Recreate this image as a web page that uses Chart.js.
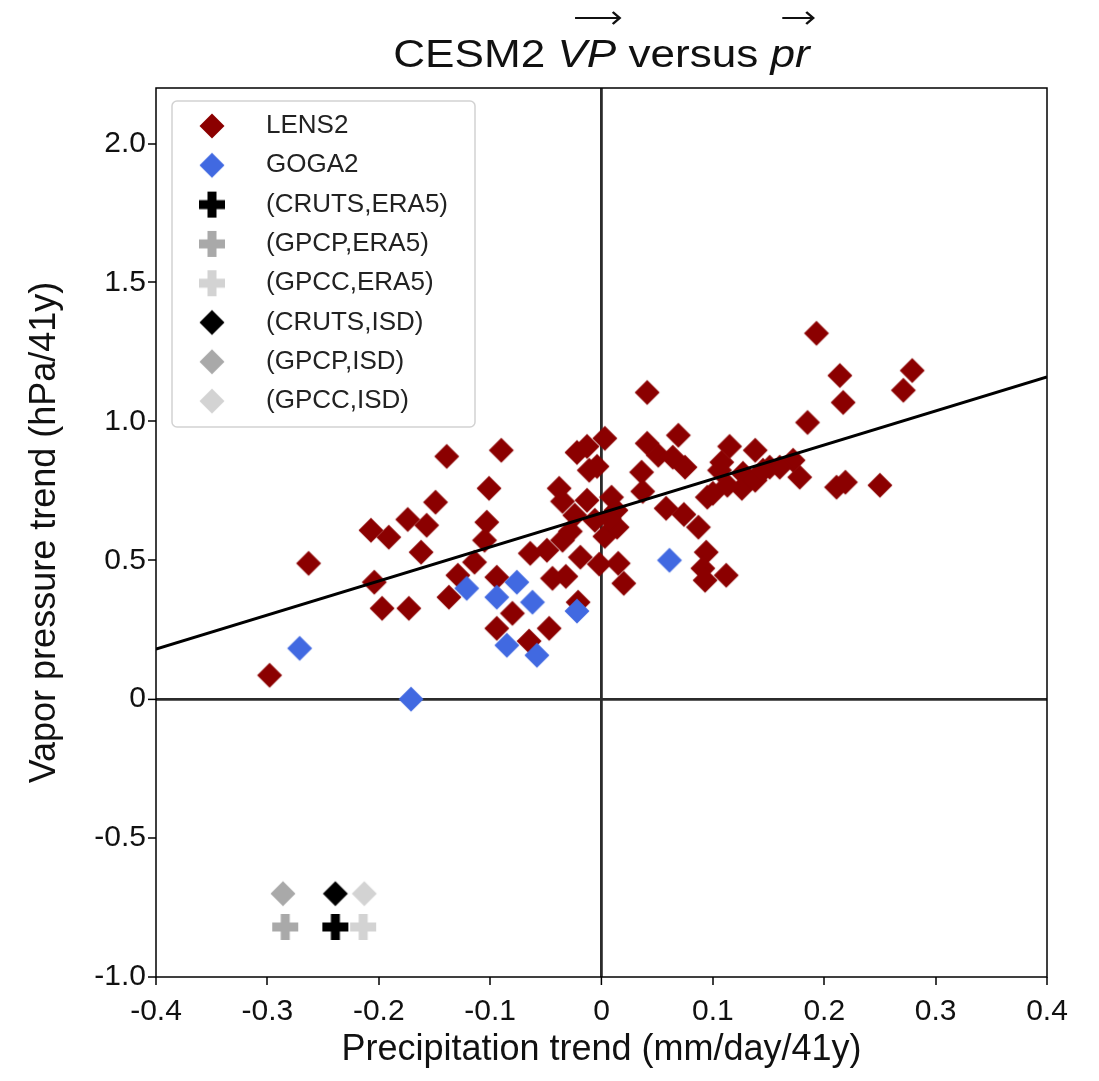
<!DOCTYPE html>
<html>
<head>
<meta charset="utf-8">
<script src="https://cdn.jsdelivr.net/npm/chart.js@4.4.1/dist/chart.umd.min.js"></script>
<style>
  body { margin: 0; background: #fff; }
  #wrap { width: 1099px; height: 1081px; }
</style>
</head>
<body>
<div id="wrap"><canvas id="scatter" width="1099" height="1081"></canvas></div>
<script>
// precipitation trend (mm/day/41y) and vapor pressure trend (hPa/41y) per member
const lens2Pr = [-0.298, -0.263, -0.139, -0.149, -0.174, -0.157, -0.207, -0.191, -0.162, -0.204,
  -0.197, -0.173, -0.137, -0.129, -0.114, 0.041, -0.090, -0.101, -0.103, -0.105,
  -0.094, -0.080, -0.094, -0.047, -0.065, -0.021, -0.064, -0.049, -0.044, -0.032,
  -0.035, -0.028, -0.019, -0.002, 0.020, 0.015, 0.003, 0.014, 0.009, -0.013,
  -0.038, -0.035, -0.022, -0.013, -0.011, 0.003, 0.041, 0.051, 0.069, 0.064,
  0.075, 0.036, 0.037, 0.058, 0.074, 0.087, 0.095, 0.094, 0.091, 0.093,
  0.112, 0.193, 0.214, 0.279, 0.271, 0.217, 0.185, 0.115, 0.138, 0.108,
  0.172, 0.151, 0.178, 0.127, 0.160, 0.126, 0.100, 0.106, 0.211, 0.219,
  0.250, 0.013, 0.007, 0.138, 0.113, -0.006, -0.024, -0.004, 0.145];
const lens2Vp = [0.086, 0.489, 0.874, 0.709, 0.647, 0.626, 0.608, 0.583, 0.529, 0.421,
  0.327, 0.327, 0.367, 0.446, 0.493, 1.104, 0.896, 0.759, 0.637, 0.572,
  0.439, 0.309, 0.255, 0.255, 0.209, 0.349, 0.525, 0.536, 0.435, 0.442,
  0.572, 0.604, 0.511, 0.486, 0.417, 0.489, 0.586, 0.619, 0.727, 0.716,
  0.759, 0.712, 0.888, 0.910, 0.824, 0.939, 0.921, 0.878, 0.950, 0.871,
  0.835, 0.817, 0.748, 0.687, 0.665, 0.619, 0.727, 0.529, 0.471, 0.428,
  0.446, 1.317, 1.165, 1.183, 1.112, 1.068, 0.996, 0.910, 0.896, 0.853,
  0.860, 0.835, 0.799, 0.813, 0.835, 0.759, 0.741, 0.824, 0.763, 0.781,
  0.770, 0.680, 0.651, 0.788, 0.770, 0.644, 0.662, 0.838, 0.824];

const goga2Pr = [-0.271, -0.171, -0.121, -0.076, -0.094, -0.062, -0.085, -0.058, -0.022, 0.061];
const goga2Vp = [0.183, 0.0, 0.399, 0.421, 0.367, 0.349, 0.194, 0.158, 0.317, 0.50];

// observational pairs: CRUTS, GPCP, GPCC
const obsNames = ['CRUTS', 'GPCP', 'GPCC'];
const obsColors = ['#000000', '#a9a9a9', '#d3d3d3'];
const era5Pr = [-0.239, -0.284, -0.214];
const era5Vp = [-0.82, -0.82, -0.82];
const isdPr = [-0.239, -0.286, -0.213];
const isdVp = [-0.70, -0.70, -0.70];

// least-squares line through the LENS2 cloud
const fitPr = [-0.4, 0.4];
const fitVp = [0.18, 1.16];

const xTicks = [-0.4, -0.3, -0.2, -0.1, 0, 0.1, 0.2, 0.3, 0.4];
const xTickLabels = ['-0.4', '-0.3', '-0.2', '-0.1', '0', '0.1', '0.2', '0.3', '0.4'];
const yTicks = [-1.0, -0.5, 0, 0.5, 1.0, 1.5, 2.0];
const yTickLabels = ['-1.0', '-0.5', '0', '0.5', '1.0', '1.5', '2.0'];

const FONT = '"Liberation Sans", Arial, sans-serif';

function pts(xs, ys) {
  return xs.map((x, i) => ({ x: x, y: ys[i] }));
}

// filled diamond / thick plus, like matplotlib 'D' and 'P'
const markerCache = {};
function marker(shape, color) {
  const key = shape + color;
  if (markerCache[key]) return markerCache[key];
  const size = 30, m = size / 2;
  const c = document.createElement('canvas');
  c.width = c.height = size;
  const g = c.getContext('2d');
  g.fillStyle = color;
  if (shape === 'diamond') {
    const r = 12.5;
    g.beginPath();
    g.moveTo(m, m - r);
    g.lineTo(m + r, m);
    g.lineTo(m, m + r);
    g.lineTo(m - r, m);
    g.closePath();
    g.fill();
  } else {
    const r = 13, t = 4.5;
    g.fillRect(m - r, m - t, 2 * r, 2 * t);
    g.fillRect(m - t, m - r, 2 * t, 2 * r);
  }
  markerCache[key] = c;
  return c;
}

const datasets = [
  { label: 'LENS2', data: pts(lens2Pr, lens2Vp), pointStyle: marker('diamond', '#8b0000'), order: 3 },
  { label: 'GOGA2', data: pts(goga2Pr, goga2Vp), pointStyle: marker('diamond', '#4169e1'), order: 2 }
];
obsNames.forEach((name, i) => {
  datasets.push({ label: '(' + name + ',ERA5)', data: [{ x: era5Pr[i], y: era5Vp[i] }],
    pointStyle: marker('plus', obsColors[i]), order: 1 });
});
obsNames.forEach((name, i) => {
  datasets.push({ label: '(' + name + ',ISD)', data: [{ x: isdPr[i], y: isdVp[i] }],
    pointStyle: marker('diamond', obsColors[i]), order: 1 });
});
datasets.push({ type: 'line', label: 'fit', data: pts(fitPr, fitVp), borderColor: '#000',
  borderWidth: 3, pointRadius: 0, order: 0 });

const zeroLine = {
  color: c => (c.tick && c.tick.value === 0 ? '#2b2b2b' : 'rgba(0,0,0,0)'),
  lineWidth: c => (c.tick && c.tick.value === 0 ? 2.8 : 0),
  tickColor: '#000',
  tickWidth: 1.5,
  tickLength: 8
};

// legend sizes
const LEG_FONT = 26;
const LEG_STEP = 39.3;

const placeLegend = {
  id: 'placeLegend',
  afterLayout(chart) {
    const lg = chart.legend, a = chart.chartArea;
    const pad = LEG_STEP - LEG_FONT;
    const bw = 108 - LEG_FONT;
    lg.left = a.left + 56 - pad - bw / 2;
    lg.top = a.top + 38 - pad - LEG_FONT / 2;
  }
};

const frames = {
  id: 'frames',
  afterDraw(chart) {
    const g = chart.ctx, a = chart.chartArea;
    g.save();
    // legend frame
    g.strokeStyle = '#d2d2d2';
    g.lineWidth = 1.5;
    g.beginPath();
    g.roundRect(a.left + 16, a.top + 13, 303, 326, 5);
    g.stroke();
    // axes box
    g.strokeStyle = '#000';
    g.lineWidth = 1.5;
    g.strokeRect(a.left, a.top, a.right - a.left, a.bottom - a.top);
    g.restore();
  }
};

const titleParts = [
  { text: 'CESM2 ', italic: false },
  { text: 'VP', italic: true },
  { text: ' versus ', italic: false },
  { text: 'pr', italic: true }
];

const vecTitle = {
  id: 'vecTitle',
  afterDraw(chart) {
    const g = chart.ctx, a = chart.chartArea;
    const size = 38, stretch = 1.16;
    const fontOf = p => (p.italic ? 'italic ' : '') + size + 'px ' + FONT;
    g.save();
    let total = 0;
    titleParts.forEach(p => { g.font = fontOf(p); p.w = g.measureText(p.text).width; total += p.w; });
    g.translate((a.left + a.right) / 2, 0);
    g.scale(stretch, 1);
    let x = -total / 2;
    const base = 67;
    g.fillStyle = '#111';
    g.strokeStyle = '#111';
    g.textBaseline = 'alphabetic';
    titleParts.forEach(p => {
      g.font = fontOf(p);
      g.fillText(p.text, x, base);
      if (p.italic) {
        // vector arrow over the symbol
        const x0 = x + p.w * 0.3, x1 = x + p.w + 3, y = 18;
        g.lineWidth = 2.2;
        g.beginPath();
        g.moveTo(x0, y);
        g.lineTo(x1, y);
        g.moveTo(x1 - 6, y - 6);
        g.lineTo(x1, y);
        g.lineTo(x1 - 6, y + 6);
        g.stroke();
      }
      x += p.w;
    });
    g.restore();
  }
};

new Chart(document.getElementById('scatter'), {
  type: 'scatter',
  data: { datasets: datasets },
  plugins: [placeLegend, frames, vecTitle],
  options: {
    responsive: false,
    animation: false,
    layout: { padding: { top: 88, right: 52, left: 0, bottom: 0 } },
    elements: { point: { radius: 12 } },
    plugins: {
      tooltip: { enabled: false },
      title: { display: false },
      legend: {
        position: 'chartArea',
        align: 'start',
        labels: {
          usePointStyle: true,
          pointStyleWidth: 108 - LEG_FONT,
          padding: LEG_STEP - LEG_FONT,
          color: '#222',
          font: { family: FONT, size: LEG_FONT },
          filter: item => item.text !== 'fit',
          sort: (p, q) => p.datasetIndex - q.datasetIndex
        }
      }
    },
    scales: {
      x: {
        type: 'linear',
        min: -0.4,
        max: 0.4,
        afterBuildTicks: s => { s.ticks = xTicks.map(v => ({ value: v })); },
        afterFit: s => { s.height = 104; },
        border: { display: false },
        grid: zeroLine,
        ticks: {
          callback: (v, i) => xTickLabels[i],
          color: '#111',
          padding: 9,
          maxRotation: 0,
          font: { family: FONT, size: 30 }
        },
        title: {
          display: true,
          text: 'Precipitation trend (mm/day/41y)',
          color: '#111',
          padding: { top: 0, bottom: 9 },
          font: { family: FONT, size: 36 }
        }
      },
      y: {
        type: 'linear',
        min: -1.0,
        max: 2.2,
        afterBuildTicks: s => { s.ticks = yTicks.map(v => ({ value: v })); },
        afterFit: s => { s.width = 156; },
        border: { display: false },
        grid: zeroLine,
        ticks: {
          callback: (v, i) => yTickLabels[i],
          color: '#111',
          padding: 2,
          font: { family: FONT, size: 30 }
        },
        title: {
          display: true,
          text: 'Vapor pressure trend (hPa/41y)',
          color: '#111',
          padding: { top: 23, bottom: 0 },
          font: { family: FONT, size: 36 }
        }
      }
    }
  }
});
</script>
</body>
</html>
